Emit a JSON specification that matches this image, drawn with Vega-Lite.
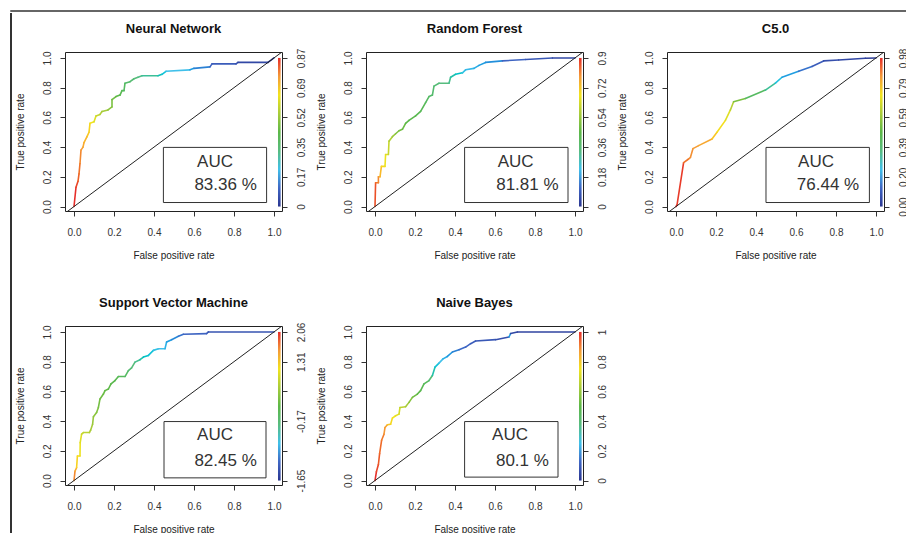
{
  "$schema": "https://vega.github.io/schema/vega-lite/v6.json",
  "background": "white",
  "padding": {"left": 10, "top": 10, "right": 0, "bottom": 0},
  "spacing": 0,
  "config": {
    "view": {"stroke": "#222", "strokeWidth": 1},
    "font": "Liberation Sans",
    "axis": {"grid": false, "domain": false, "tickSize": 5, "tickColor": "#333", "labelFont": "Liberation Sans", "titleFont": "Liberation Sans", "labelFontSize": 10, "titleFontSize": 10, "titleFontWeight": "normal", "labelColor": "#333", "titleColor": "#222"},
    "title": {"font": "Liberation Sans", "fontSize": 13, "fontWeight": "bold", "color": "#111", "anchor": "middle", "frame": "group", "offset": 12}
  },
  "datasets": {
    "roc": [
      {"m":"NN","fpr":0,"tpr":0,"t":1},{"m":"NN","fpr":0.01,"tpr":0.13,"t":0.98},{"m":"NN","fpr":0.02,"tpr":0.17,"t":0.95},{"m":"NN","fpr":0.025,"tpr":0.22,"t":0.93},{"m":"NN","fpr":0.03,"tpr":0.29,"t":0.9},{"m":"NN","fpr":0.035,"tpr":0.38,"t":0.87},{"m":"NN","fpr":0.045,"tpr":0.40,"t":0.85},{"m":"NN","fpr":0.05,"tpr":0.43,"t":0.83},{"m":"NN","fpr":0.065,"tpr":0.47,"t":0.8},{"m":"NN","fpr":0.075,"tpr":0.50,"t":0.78},{"m":"NN","fpr":0.08,"tpr":0.56,"t":0.75},{"m":"NN","fpr":0.10,"tpr":0.57,"t":0.72},{"m":"NN","fpr":0.11,"tpr":0.61,"t":0.68},{"m":"NN","fpr":0.13,"tpr":0.62,"t":0.64},{"m":"NN","fpr":0.14,"tpr":0.64,"t":0.62},{"m":"NN","fpr":0.17,"tpr":0.65,"t":0.58},{"m":"NN","fpr":0.19,"tpr":0.67,"t":0.55},{"m":"NN","fpr":0.19,"tpr":0.72,"t":0.53},{"m":"NN","fpr":0.21,"tpr":0.74,"t":0.5},{"m":"NN","fpr":0.23,"tpr":0.75,"t":0.48},{"m":"NN","fpr":0.24,"tpr":0.78,"t":0.46},{"m":"NN","fpr":0.25,"tpr":0.78,"t":0.45},{"m":"NN","fpr":0.255,"tpr":0.83,"t":0.43},{"m":"NN","fpr":0.28,"tpr":0.84,"t":0.41},{"m":"NN","fpr":0.30,"tpr":0.86,"t":0.39},{"m":"NN","fpr":0.32,"tpr":0.87,"t":0.37},{"m":"NN","fpr":0.34,"tpr":0.88,"t":0.35},{"m":"NN","fpr":0.42,"tpr":0.88,"t":0.32},{"m":"NN","fpr":0.44,"tpr":0.89,"t":0.28},{"m":"NN","fpr":0.46,"tpr":0.91,"t":0.25},{"m":"NN","fpr":0.58,"tpr":0.92,"t":0.2},{"m":"NN","fpr":0.60,"tpr":0.93,"t":0.16},{"m":"NN","fpr":0.68,"tpr":0.94,"t":0.12},{"m":"NN","fpr":0.69,"tpr":0.96,"t":0.1},{"m":"NN","fpr":0.81,"tpr":0.96,"t":0.07},{"m":"NN","fpr":0.82,"tpr":0.97,"t":0.05},{"m":"NN","fpr":0.97,"tpr":0.97,"t":0.02},{"m":"NN","fpr":1,"tpr":1,"t":0},
      {"m":"RF","fpr":0,"tpr":0,"t":0.97},{"m":"RF","fpr":0.003,"tpr":0.16,"t":0.93},{"m":"RF","fpr":0.017,"tpr":0.16,"t":0.9},{"m":"RF","fpr":0.017,"tpr":0.2,"t":0.87},{"m":"RF","fpr":0.025,"tpr":0.2,"t":0.82},{"m":"RF","fpr":0.032,"tpr":0.27,"t":0.77},{"m":"RF","fpr":0.05,"tpr":0.27,"t":0.74},{"m":"RF","fpr":0.053,"tpr":0.35,"t":0.72},{"m":"RF","fpr":0.067,"tpr":0.35,"t":0.68},{"m":"RF","fpr":0.07,"tpr":0.44,"t":0.64},{"m":"RF","fpr":0.087,"tpr":0.47,"t":0.6},{"m":"RF","fpr":0.103,"tpr":0.49,"t":0.56},{"m":"RF","fpr":0.12,"tpr":0.51,"t":0.54},{"m":"RF","fpr":0.137,"tpr":0.52,"t":0.52},{"m":"RF","fpr":0.153,"tpr":0.56,"t":0.5},{"m":"RF","fpr":0.17,"tpr":0.58,"t":0.49},{"m":"RF","fpr":0.203,"tpr":0.61,"t":0.48},{"m":"RF","fpr":0.228,"tpr":0.64,"t":0.47},{"m":"RF","fpr":0.253,"tpr":0.70,"t":0.45},{"m":"RF","fpr":0.27,"tpr":0.74,"t":0.43},{"m":"RF","fpr":0.287,"tpr":0.75,"t":0.42},{"m":"RF","fpr":0.295,"tpr":0.81,"t":0.4},{"m":"RF","fpr":0.32,"tpr":0.83,"t":0.38},{"m":"RF","fpr":0.37,"tpr":0.83,"t":0.36},{"m":"RF","fpr":0.378,"tpr":0.87,"t":0.33},{"m":"RF","fpr":0.403,"tpr":0.89,"t":0.3},{"m":"RF","fpr":0.437,"tpr":0.90,"t":0.26},{"m":"RF","fpr":0.453,"tpr":0.92,"t":0.24},{"m":"RF","fpr":0.495,"tpr":0.93,"t":0.22},{"m":"RF","fpr":0.52,"tpr":0.95,"t":0.2},{"m":"RF","fpr":0.553,"tpr":0.97,"t":0.18},{"m":"RF","fpr":0.637,"tpr":0.98,"t":0.12},{"m":"RF","fpr":0.753,"tpr":0.99,"t":0.09},{"m":"RF","fpr":0.887,"tpr":1.0,"t":0.05},{"m":"RF","fpr":1,"tpr":1,"t":0},
      {"m":"C5","fpr":0,"tpr":0,"t":1},{"m":"C5","fpr":0.005,"tpr":0.01,"t":0.99},{"m":"C5","fpr":0.038,"tpr":0.295,"t":0.93},{"m":"C5","fpr":0.063,"tpr":0.32,"t":0.9},{"m":"C5","fpr":0.072,"tpr":0.33,"t":0.89},{"m":"C5","fpr":0.085,"tpr":0.39,"t":0.87},{"m":"C5","fpr":0.113,"tpr":0.41,"t":0.85},{"m":"C5","fpr":0.18,"tpr":0.455,"t":0.8},{"m":"C5","fpr":0.205,"tpr":0.50,"t":0.76},{"m":"C5","fpr":0.247,"tpr":0.58,"t":0.72},{"m":"C5","fpr":0.272,"tpr":0.65,"t":0.65},{"m":"C5","fpr":0.288,"tpr":0.705,"t":0.55},{"m":"C5","fpr":0.347,"tpr":0.727,"t":0.45},{"m":"C5","fpr":0.447,"tpr":0.784,"t":0.35},{"m":"C5","fpr":0.497,"tpr":0.83,"t":0.27},{"m":"C5","fpr":0.53,"tpr":0.87,"t":0.2},{"m":"C5","fpr":0.613,"tpr":0.91,"t":0.14},{"m":"C5","fpr":0.68,"tpr":0.943,"t":0.1},{"m":"C5","fpr":0.738,"tpr":0.98,"t":0.07},{"m":"C5","fpr":0.813,"tpr":0.986,"t":0.05},{"m":"C5","fpr":0.947,"tpr":0.998,"t":0.02},{"m":"C5","fpr":1,"tpr":1,"t":0},
      {"m":"SVM","fpr":0,"tpr":0,"t":0.9},{"m":"SVM","fpr":0.005,"tpr":0.063,"t":0.85},{"m":"SVM","fpr":0.013,"tpr":0.086,"t":0.78},{"m":"SVM","fpr":0.017,"tpr":0.165,"t":0.76},{"m":"SVM","fpr":0.03,"tpr":0.165,"t":0.74},{"m":"SVM","fpr":0.031,"tpr":0.255,"t":0.72},{"m":"SVM","fpr":0.038,"tpr":0.312,"t":0.68},{"m":"SVM","fpr":0.047,"tpr":0.323,"t":0.66},{"m":"SVM","fpr":0.077,"tpr":0.323,"t":0.64},{"m":"SVM","fpr":0.083,"tpr":0.339,"t":0.62},{"m":"SVM","fpr":0.093,"tpr":0.379,"t":0.6},{"m":"SVM","fpr":0.097,"tpr":0.429,"t":0.58},{"m":"SVM","fpr":0.113,"tpr":0.458,"t":0.56},{"m":"SVM","fpr":0.122,"tpr":0.492,"t":0.54},{"m":"SVM","fpr":0.13,"tpr":0.549,"t":0.53},{"m":"SVM","fpr":0.147,"tpr":0.582,"t":0.52},{"m":"SVM","fpr":0.155,"tpr":0.605,"t":0.51},{"m":"SVM","fpr":0.172,"tpr":0.616,"t":0.5},{"m":"SVM","fpr":0.185,"tpr":0.65,"t":0.49},{"m":"SVM","fpr":0.205,"tpr":0.673,"t":0.48},{"m":"SVM","fpr":0.222,"tpr":0.70,"t":0.46},{"m":"SVM","fpr":0.255,"tpr":0.70,"t":0.44},{"m":"SVM","fpr":0.272,"tpr":0.74,"t":0.41},{"m":"SVM","fpr":0.288,"tpr":0.758,"t":0.39},{"m":"SVM","fpr":0.305,"tpr":0.797,"t":0.36},{"m":"SVM","fpr":0.33,"tpr":0.813,"t":0.33},{"m":"SVM","fpr":0.347,"tpr":0.831,"t":0.3},{"m":"SVM","fpr":0.372,"tpr":0.842,"t":0.28},{"m":"SVM","fpr":0.397,"tpr":0.876,"t":0.26},{"m":"SVM","fpr":0.422,"tpr":0.887,"t":0.25},{"m":"SVM","fpr":0.455,"tpr":0.887,"t":0.23},{"m":"SVM","fpr":0.463,"tpr":0.932,"t":0.2},{"m":"SVM","fpr":0.488,"tpr":0.948,"t":0.17},{"m":"SVM","fpr":0.522,"tpr":0.971,"t":0.14},{"m":"SVM","fpr":0.547,"tpr":0.984,"t":0.12},{"m":"SVM","fpr":0.663,"tpr":0.989,"t":0.1},{"m":"SVM","fpr":0.672,"tpr":1.0,"t":0.08},{"m":"SVM","fpr":1,"tpr":1,"t":0.05},
      {"m":"NB","fpr":0,"tpr":0,"t":1},{"m":"NB","fpr":0.007,"tpr":0.059,"t":0.98},{"m":"NB","fpr":0.017,"tpr":0.108,"t":0.96},{"m":"NB","fpr":0.023,"tpr":0.181,"t":0.94},{"m":"NB","fpr":0.033,"tpr":0.271,"t":0.92},{"m":"NB","fpr":0.045,"tpr":0.312,"t":0.88},{"m":"NB","fpr":0.05,"tpr":0.357,"t":0.86},{"m":"NB","fpr":0.062,"tpr":0.375,"t":0.8},{"m":"NB","fpr":0.078,"tpr":0.379,"t":0.77},{"m":"NB","fpr":0.087,"tpr":0.42,"t":0.75},{"m":"NB","fpr":0.103,"tpr":0.436,"t":0.73},{"m":"NB","fpr":0.12,"tpr":0.447,"t":0.7},{"m":"NB","fpr":0.125,"tpr":0.492,"t":0.66},{"m":"NB","fpr":0.153,"tpr":0.497,"t":0.62},{"m":"NB","fpr":0.17,"tpr":0.526,"t":0.57},{"m":"NB","fpr":0.187,"tpr":0.56,"t":0.53},{"m":"NB","fpr":0.212,"tpr":0.582,"t":0.5},{"m":"NB","fpr":0.228,"tpr":0.605,"t":0.48},{"m":"NB","fpr":0.245,"tpr":0.65,"t":0.46},{"m":"NB","fpr":0.27,"tpr":0.673,"t":0.4},{"m":"NB","fpr":0.287,"tpr":0.707,"t":0.33},{"m":"NB","fpr":0.3,"tpr":0.763,"t":0.28},{"m":"NB","fpr":0.32,"tpr":0.79,"t":0.25},{"m":"NB","fpr":0.34,"tpr":0.819,"t":0.22},{"m":"NB","fpr":0.362,"tpr":0.835,"t":0.19},{"m":"NB","fpr":0.387,"tpr":0.865,"t":0.16},{"m":"NB","fpr":0.42,"tpr":0.88,"t":0.13},{"m":"NB","fpr":0.453,"tpr":0.898,"t":0.12},{"m":"NB","fpr":0.478,"tpr":0.921,"t":0.1},{"m":"NB","fpr":0.503,"tpr":0.939,"t":0.09},{"m":"NB","fpr":0.603,"tpr":0.948,"t":0.07},{"m":"NB","fpr":0.67,"tpr":0.966,"t":0.2},{"m":"NB","fpr":0.678,"tpr":0.989,"t":0.05},{"m":"NB","fpr":0.712,"tpr":1.0,"t":0.04},{"m":"NB","fpr":1,"tpr":1,"t":0}
    ],
    "auc": [
      {"m":"NN","label":"83.36 %"},{"m":"RF","label":"81.81 %"},{"m":"C5","label":"76.44 %"},{"m":"SVM","label":"82.45 %"},{"m":"NB","label":"80.1 %"}
    ],
    "none": []
  },
  "vconcat": [
    {"width": 900, "height": 0.01, "view": {"stroke": "#333", "strokeWidth": 1.5}, "data": {"name": "none"}, "mark": "point"},
    {"hconcat": [
      {"width": 0.01, "height": 481, "view": {"stroke": null}, "data": {"values": [{}]},
       "mark": {"type": "rule", "color": "#333", "strokeWidth": 2},
       "encoding": {"x": {"datum": 0, "scale": {"domain": [0, 1]}, "axis": null}, "y": {"datum": 1.081, "scale": {"domain": [0, 1]}, "axis": null}, "y2": {"datum": -0.1}}},
      {"vconcat": [
    {"hconcat": [
      {"width": 217, "height": 159, "title": {"text": "Neural Network", "offset": 12}, "resolve": {"axis": {"x": "independent", "y": "independent"}},
       "layer": [
        {"data": {"name": "roc"}, "transform": [{"filter": "datum.m === 'NN'"}, {"window": [{"op": "lead", "field": "fpr", "as": "fpr2"}, {"op": "lead", "field": "tpr", "as": "tpr2"}], "sort": [{"field": "fpr"}, {"field": "tpr"}]}, {"filter": "datum.fpr2 != null"}],
         "mark": {"type": "rule", "strokeWidth": 1.6, "strokeCap": "round"},
         "encoding": {
          "x": {"field": "fpr", "type": "quantitative", "scale": {"domain": [-0.045, 1.04], "nice": false, "zero": false}, "axis": {"values": [0,0.2,0.4,0.6,0.8,1], "format": ".1f", "title": "False positive rate", "labelPadding": 11, "titlePadding": 13}},
          "y": {"field": "tpr", "type": "quantitative", "scale": {"domain": [-0.03, 1.04], "nice": false, "zero": false}, "axis": {"orient": "left", "values": [0,0.2,0.4,0.6,0.8,1], "format": ".1f", "title": "True positive rate", "labelAngle": -90, "labelAlign": "center", "labelBaseline": "bottom", "labelPadding": 8, "titlePadding": 17}},
          "x2": {"field": "fpr2"}, "y2": {"field": "tpr2"},
          "color": {"field": "t", "type": "quantitative", "legend": null, "scale": {"domain": [0,0.125,0.25,0.375,0.5,0.625,0.75,0.875,1], "range": ["#2a3590","#3f66c4","#40c0ea","#58bc80","#5cb848","#a8cc3a","#f2e41e","#f49a38","#e62e2a"]}}
         }},
        {"data": {"values": [{}]},
         "mark": {"type": "rect", "color": {"gradient": "linear", "x1": 0, "y1": 1, "x2": 0, "y2": 0, "stops": [{"offset": 0, "color": "#2a3590"}, {"offset": 0.125, "color": "#3f66c4"}, {"offset": 0.25, "color": "#40c0ea"}, {"offset": 0.375, "color": "#58bc80"}, {"offset": 0.5, "color": "#5cb848"}, {"offset": 0.625, "color": "#a8cc3a"}, {"offset": 0.75, "color": "#f2e41e"}, {"offset": 0.875, "color": "#f49a38"}, {"offset": 1, "color": "#e62e2a"}]}},
         "encoding": {"x": {"datum": 1.02, "axis": null}, "x2": {"datum": 1.033}, "y": {"datum": 0, "axis": {"orient": "right", "values": [0,0.2,0.4,0.6,0.8,1], "title": null, "labelAngle": -90, "labelAlign": "center", "labelBaseline": "top", "labelPadding": 9, "labelExpr": "datum.value < 0.1 ? '0' : datum.value < 0.3 ? '0.17' : datum.value < 0.5 ? '0.35' : datum.value < 0.7 ? '0.52' : datum.value < 0.9 ? '0.69' : '0.87'"}}, "y2": {"datum": 1}}},
        {"data": {"values": [{}]}, "mark": {"type": "rule", "color": "#222", "strokeWidth": 1, "clip": true},
         "encoding": {"x": {"datum": -0.05, "axis": null}, "y": {"datum": -0.05, "axis": null}, "x2": {"datum": 1.06}, "y2": {"datum": 1.06}}},
        {"data": {"values": [{}]}, "mark": {"type": "rect", "filled": false, "stroke": "#333", "strokeWidth": 1},
         "encoding": {"x": {"datum": 0.447, "axis": null}, "x2": {"datum": 0.963}, "y": {"datum": 0.027, "axis": null}, "y2": {"datum": 0.398}}},
        {"data": {"name": "auc"}, "transform": [{"filter": "datum.m === 'NN'"}], "mark": {"type": "text", "text": "AUC", "fontSize": 17, "color": "#333", "font": "Liberation Sans"},
         "encoding": {"x": {"datum": 0.705, "axis": null}, "y": {"datum": 0.303, "axis": null}}},
        {"data": {"name": "auc"}, "transform": [{"filter": "datum.m === 'NN'"}], "mark": {"type": "text", "fontSize": 17, "color": "#333", "font": "Liberation Sans"},
         "encoding": {"x": {"datum": 0.758, "axis": null}, "y": {"datum": 0.146, "axis": null}, "text": {"field": "label"}}}
       ]},
      {"width": 217, "height": 159, "title": {"text": "Random Forest", "offset": 15}, "resolve": {"axis": {"x": "independent", "y": "independent"}},
       "layer": [
        {"data": {"name": "roc"}, "transform": [{"filter": "datum.m === 'RF'"}, {"window": [{"op": "lead", "field": "fpr", "as": "fpr2"}, {"op": "lead", "field": "tpr", "as": "tpr2"}], "sort": [{"field": "fpr"}, {"field": "tpr"}]}, {"filter": "datum.fpr2 != null"}],
         "mark": {"type": "rule", "strokeWidth": 1.6, "strokeCap": "round"},
         "encoding": {
          "x": {"field": "fpr", "type": "quantitative", "scale": {"domain": [-0.045, 1.04], "nice": false, "zero": false}, "axis": {"values": [0,0.2,0.4,0.6,0.8,1], "format": ".1f", "title": "False positive rate", "labelPadding": 11, "titlePadding": 13}},
          "y": {"field": "tpr", "type": "quantitative", "scale": {"domain": [-0.03, 1.04], "nice": false, "zero": false}, "axis": {"orient": "left", "values": [0,0.2,0.4,0.6,0.8,1], "format": ".1f", "title": "True positive rate", "labelAngle": -90, "labelAlign": "center", "labelBaseline": "bottom", "labelPadding": 8, "titlePadding": 17}},
          "x2": {"field": "fpr2"}, "y2": {"field": "tpr2"},
          "color": {"field": "t", "type": "quantitative", "legend": null, "scale": {"domain": [0,0.125,0.25,0.375,0.5,0.625,0.75,0.875,1], "range": ["#2a3590","#3f66c4","#40c0ea","#58bc80","#5cb848","#a8cc3a","#f2e41e","#f49a38","#e62e2a"]}}
         }},
        {"data": {"values": [{}]},
         "mark": {"type": "rect", "color": {"gradient": "linear", "x1": 0, "y1": 1, "x2": 0, "y2": 0, "stops": [{"offset": 0, "color": "#2a3590"}, {"offset": 0.125, "color": "#3f66c4"}, {"offset": 0.25, "color": "#40c0ea"}, {"offset": 0.375, "color": "#58bc80"}, {"offset": 0.5, "color": "#5cb848"}, {"offset": 0.625, "color": "#a8cc3a"}, {"offset": 0.75, "color": "#f2e41e"}, {"offset": 0.875, "color": "#f49a38"}, {"offset": 1, "color": "#e62e2a"}]}},
         "encoding": {"x": {"datum": 1.02, "axis": null}, "x2": {"datum": 1.033}, "y": {"datum": 0, "axis": {"orient": "right", "values": [0,0.2,0.4,0.6,0.8,1], "title": null, "labelAngle": -90, "labelAlign": "center", "labelBaseline": "top", "labelPadding": 9, "labelExpr": "datum.value < 0.1 ? '0' : datum.value < 0.3 ? '0.18' : datum.value < 0.5 ? '0.36' : datum.value < 0.7 ? '0.54' : datum.value < 0.9 ? '0.72' : '0.9'"}}, "y2": {"datum": 1}}},
        {"data": {"values": [{}]}, "mark": {"type": "rule", "color": "#222", "strokeWidth": 1, "clip": true},
         "encoding": {"x": {"datum": -0.05, "axis": null}, "y": {"datum": -0.05, "axis": null}, "x2": {"datum": 1.06}, "y2": {"datum": 1.06}}},
        {"data": {"values": [{}]}, "mark": {"type": "rect", "filled": false, "stroke": "#333", "strokeWidth": 1},
         "encoding": {"x": {"datum": 0.448, "axis": null}, "x2": {"datum": 0.965}, "y": {"datum": 0.027, "axis": null}, "y2": {"datum": 0.398}}},
        {"data": {"name": "auc"}, "transform": [{"filter": "datum.m === 'RF'"}], "mark": {"type": "text", "text": "AUC", "fontSize": 17, "color": "#333", "font": "Liberation Sans"},
         "encoding": {"x": {"datum": 0.703, "axis": null}, "y": {"datum": 0.303, "axis": null}}},
        {"data": {"name": "auc"}, "transform": [{"filter": "datum.m === 'RF'"}], "mark": {"type": "text", "fontSize": 17, "color": "#333", "font": "Liberation Sans"},
         "encoding": {"x": {"datum": 0.762, "axis": null}, "y": {"datum": 0.146, "axis": null}, "text": {"field": "label"}}}
       ]},
      {"width": 217, "height": 159, "title": {"text": "C5.0", "offset": 12}, "resolve": {"axis": {"x": "independent", "y": "independent"}},
       "layer": [
        {"data": {"name": "roc"}, "transform": [{"filter": "datum.m === 'C5'"}, {"window": [{"op": "lead", "field": "fpr", "as": "fpr2"}, {"op": "lead", "field": "tpr", "as": "tpr2"}], "sort": [{"field": "fpr"}, {"field": "tpr"}]}, {"filter": "datum.fpr2 != null"}],
         "mark": {"type": "rule", "strokeWidth": 1.6, "strokeCap": "round"},
         "encoding": {
          "x": {"field": "fpr", "type": "quantitative", "scale": {"domain": [-0.045, 1.04], "nice": false, "zero": false}, "axis": {"values": [0,0.2,0.4,0.6,0.8,1], "format": ".1f", "title": "False positive rate", "labelPadding": 11, "titlePadding": 13}},
          "y": {"field": "tpr", "type": "quantitative", "scale": {"domain": [-0.03, 1.04], "nice": false, "zero": false}, "axis": {"orient": "left", "values": [0,0.2,0.4,0.6,0.8,1], "format": ".1f", "title": "True positive rate", "labelAngle": -90, "labelAlign": "center", "labelBaseline": "bottom", "labelPadding": 8, "titlePadding": 17}},
          "x2": {"field": "fpr2"}, "y2": {"field": "tpr2"},
          "color": {"field": "t", "type": "quantitative", "legend": null, "scale": {"domain": [0,0.125,0.25,0.375,0.5,0.625,0.75,0.875,1], "range": ["#2a3590","#3f66c4","#40c0ea","#58bc80","#5cb848","#a8cc3a","#f2e41e","#f49a38","#e62e2a"]}}
         }},
        {"data": {"values": [{}]},
         "mark": {"type": "rect", "color": {"gradient": "linear", "x1": 0, "y1": 1, "x2": 0, "y2": 0, "stops": [{"offset": 0, "color": "#2a3590"}, {"offset": 0.125, "color": "#3f66c4"}, {"offset": 0.25, "color": "#40c0ea"}, {"offset": 0.375, "color": "#58bc80"}, {"offset": 0.5, "color": "#5cb848"}, {"offset": 0.625, "color": "#a8cc3a"}, {"offset": 0.75, "color": "#f2e41e"}, {"offset": 0.875, "color": "#f49a38"}, {"offset": 1, "color": "#e62e2a"}]}},
         "encoding": {"x": {"datum": 1.02, "axis": null}, "x2": {"datum": 1.033}, "y": {"datum": 0, "axis": {"orient": "right", "values": [0,0.2,0.4,0.6,0.8,1], "title": null, "labelAngle": -90, "labelAlign": "center", "labelBaseline": "top", "labelPadding": 9, "labelExpr": "datum.value < 0.1 ? '0.00' : datum.value < 0.3 ? '0.20' : datum.value < 0.5 ? '0.39' : datum.value < 0.7 ? '0.59' : datum.value < 0.9 ? '0.79' : '0.98'"}}, "y2": {"datum": 1}}},
        {"data": {"values": [{}]}, "mark": {"type": "rule", "color": "#222", "strokeWidth": 1, "clip": true},
         "encoding": {"x": {"datum": -0.05, "axis": null}, "y": {"datum": -0.05, "axis": null}, "x2": {"datum": 1.06}, "y2": {"datum": 1.06}}},
        {"data": {"values": [{}]}, "mark": {"type": "rect", "filled": false, "stroke": "#333", "strokeWidth": 1},
         "encoding": {"x": {"datum": 0.45, "axis": null}, "x2": {"datum": 0.967}, "y": {"datum": 0.027, "axis": null}, "y2": {"datum": 0.398}}},
        {"data": {"name": "auc"}, "transform": [{"filter": "datum.m === 'C5'"}], "mark": {"type": "text", "text": "AUC", "fontSize": 17, "color": "#333", "font": "Liberation Sans"},
         "encoding": {"x": {"datum": 0.70, "axis": null}, "y": {"datum": 0.303, "axis": null}}},
        {"data": {"name": "auc"}, "transform": [{"filter": "datum.m === 'C5'"}], "mark": {"type": "text", "fontSize": 17, "color": "#333", "font": "Liberation Sans"},
         "encoding": {"x": {"datum": 0.76, "axis": null}, "y": {"datum": 0.146, "axis": null}, "text": {"field": "label"}}}
       ]}
    ], "spacing": 8},
    {"hconcat": [
      {"width": 217, "height": 159, "title": {"text": "Support Vector Machine", "offset": 12}, "resolve": {"axis": {"x": "independent", "y": "independent"}},
       "layer": [
        {"data": {"name": "roc"}, "transform": [{"filter": "datum.m === 'SVM'"}, {"window": [{"op": "lead", "field": "fpr", "as": "fpr2"}, {"op": "lead", "field": "tpr", "as": "tpr2"}], "sort": [{"field": "fpr"}, {"field": "tpr"}]}, {"filter": "datum.fpr2 != null"}],
         "mark": {"type": "rule", "strokeWidth": 1.6, "strokeCap": "round"},
         "encoding": {
          "x": {"field": "fpr", "type": "quantitative", "scale": {"domain": [-0.045, 1.04], "nice": false, "zero": false}, "axis": {"values": [0,0.2,0.4,0.6,0.8,1], "format": ".1f", "title": "False positive rate", "labelPadding": 11, "titlePadding": 13}},
          "y": {"field": "tpr", "type": "quantitative", "scale": {"domain": [-0.03, 1.04], "nice": false, "zero": false}, "axis": {"orient": "left", "values": [0,0.2,0.4,0.6,0.8,1], "format": ".1f", "title": "True positive rate", "labelAngle": -90, "labelAlign": "center", "labelBaseline": "bottom", "labelPadding": 8, "titlePadding": 17}},
          "x2": {"field": "fpr2"}, "y2": {"field": "tpr2"},
          "color": {"field": "t", "type": "quantitative", "legend": null, "scale": {"domain": [0,0.125,0.25,0.375,0.5,0.625,0.75,0.875,1], "range": ["#2a3590","#3f66c4","#40c0ea","#58bc80","#5cb848","#a8cc3a","#f2e41e","#f49a38","#e62e2a"]}}
         }},
        {"data": {"values": [{}]},
         "mark": {"type": "rect", "color": {"gradient": "linear", "x1": 0, "y1": 1, "x2": 0, "y2": 0, "stops": [{"offset": 0, "color": "#2a3590"}, {"offset": 0.125, "color": "#3f66c4"}, {"offset": 0.25, "color": "#40c0ea"}, {"offset": 0.375, "color": "#58bc80"}, {"offset": 0.5, "color": "#5cb848"}, {"offset": 0.625, "color": "#a8cc3a"}, {"offset": 0.75, "color": "#f2e41e"}, {"offset": 0.875, "color": "#f49a38"}, {"offset": 1, "color": "#e62e2a"}]}},
         "encoding": {"x": {"datum": 1.02, "axis": null}, "x2": {"datum": 1.033}, "y": {"datum": 0, "axis": {"orient": "right", "values": [0,0.2,0.4,0.6,0.8,1], "title": null, "labelAngle": -90, "labelAlign": "center", "labelBaseline": "top", "labelPadding": 9, "labelExpr": "datum.value < 0.1 ? '-1.65' : datum.value < 0.3 ? '' : datum.value < 0.5 ? '-0.17' : datum.value < 0.7 ? '' : datum.value < 0.9 ? '1.31' : '2.06'"}}, "y2": {"datum": 1}}},
        {"data": {"values": [{}]}, "mark": {"type": "rule", "color": "#222", "strokeWidth": 1, "clip": true},
         "encoding": {"x": {"datum": -0.05, "axis": null}, "y": {"datum": -0.05, "axis": null}, "x2": {"datum": 1.06}, "y2": {"datum": 1.06}}},
        {"data": {"values": [{}]}, "mark": {"type": "rect", "filled": false, "stroke": "#333", "strokeWidth": 1},
         "encoding": {"x": {"datum": 0.45, "axis": null}, "x2": {"datum": 0.96}, "y": {"datum": 0.018, "axis": null}, "y2": {"datum": 0.397}}},
        {"data": {"name": "auc"}, "transform": [{"filter": "datum.m === 'SVM'"}], "mark": {"type": "text", "text": "AUC", "fontSize": 17, "color": "#333", "font": "Liberation Sans"},
         "encoding": {"x": {"datum": 0.705, "axis": null}, "y": {"datum": 0.307, "axis": null}}},
        {"data": {"name": "auc"}, "transform": [{"filter": "datum.m === 'SVM'"}], "mark": {"type": "text", "fontSize": 17, "color": "#333", "font": "Liberation Sans"},
         "encoding": {"x": {"datum": 0.758, "axis": null}, "y": {"datum": 0.131, "axis": null}, "text": {"field": "label"}}}
       ]},
      {"width": 217, "height": 159, "title": {"text": "Naive Bayes", "offset": 15}, "resolve": {"axis": {"x": "independent", "y": "independent"}},
       "layer": [
        {"data": {"name": "roc"}, "transform": [{"filter": "datum.m === 'NB'"}, {"window": [{"op": "lead", "field": "fpr", "as": "fpr2"}, {"op": "lead", "field": "tpr", "as": "tpr2"}], "sort": [{"field": "fpr"}, {"field": "tpr"}]}, {"filter": "datum.fpr2 != null"}],
         "mark": {"type": "rule", "strokeWidth": 1.6, "strokeCap": "round"},
         "encoding": {
          "x": {"field": "fpr", "type": "quantitative", "scale": {"domain": [-0.045, 1.04], "nice": false, "zero": false}, "axis": {"values": [0,0.2,0.4,0.6,0.8,1], "format": ".1f", "title": "False positive rate", "labelPadding": 11, "titlePadding": 13}},
          "y": {"field": "tpr", "type": "quantitative", "scale": {"domain": [-0.03, 1.04], "nice": false, "zero": false}, "axis": {"orient": "left", "values": [0,0.2,0.4,0.6,0.8,1], "format": ".1f", "title": "True positive rate", "labelAngle": -90, "labelAlign": "center", "labelBaseline": "bottom", "labelPadding": 8, "titlePadding": 17}},
          "x2": {"field": "fpr2"}, "y2": {"field": "tpr2"},
          "color": {"field": "t", "type": "quantitative", "legend": null, "scale": {"domain": [0,0.125,0.25,0.375,0.5,0.625,0.75,0.875,1], "range": ["#2a3590","#3f66c4","#40c0ea","#58bc80","#5cb848","#a8cc3a","#f2e41e","#f49a38","#e62e2a"]}}
         }},
        {"data": {"values": [{}]},
         "mark": {"type": "rect", "color": {"gradient": "linear", "x1": 0, "y1": 1, "x2": 0, "y2": 0, "stops": [{"offset": 0, "color": "#2a3590"}, {"offset": 0.125, "color": "#3f66c4"}, {"offset": 0.25, "color": "#40c0ea"}, {"offset": 0.375, "color": "#58bc80"}, {"offset": 0.5, "color": "#5cb848"}, {"offset": 0.625, "color": "#a8cc3a"}, {"offset": 0.75, "color": "#f2e41e"}, {"offset": 0.875, "color": "#f49a38"}, {"offset": 1, "color": "#e62e2a"}]}},
         "encoding": {"x": {"datum": 1.02, "axis": null}, "x2": {"datum": 1.033}, "y": {"datum": 0, "axis": {"orient": "right", "values": [0,0.2,0.4,0.6,0.8,1], "title": null, "labelAngle": -90, "labelAlign": "center", "labelBaseline": "top", "labelPadding": 9, "labelExpr": "datum.value < 0.1 ? '0' : datum.value < 0.3 ? '0.2' : datum.value < 0.5 ? '0.4' : datum.value < 0.7 ? '0.6' : datum.value < 0.9 ? '0.8' : '1'"}}, "y2": {"datum": 1}}},
        {"data": {"values": [{}]}, "mark": {"type": "rule", "color": "#222", "strokeWidth": 1, "clip": true},
         "encoding": {"x": {"datum": -0.05, "axis": null}, "y": {"datum": -0.05, "axis": null}, "x2": {"datum": 1.06}, "y2": {"datum": 1.06}}},
        {"data": {"values": [{}]}, "mark": {"type": "rect", "filled": false, "stroke": "#333", "strokeWidth": 1},
         "encoding": {"x": {"datum": 0.448, "axis": null}, "x2": {"datum": 0.915}, "y": {"datum": 0.023, "axis": null}, "y2": {"datum": 0.397}}},
        {"data": {"name": "auc"}, "transform": [{"filter": "datum.m === 'NB'"}], "mark": {"type": "text", "text": "AUC", "fontSize": 17, "color": "#333", "font": "Liberation Sans"},
         "encoding": {"x": {"datum": 0.675, "axis": null}, "y": {"datum": 0.307, "axis": null}}},
        {"data": {"name": "auc"}, "transform": [{"filter": "datum.m === 'NB'"}], "mark": {"type": "text", "fontSize": 17, "color": "#333", "font": "Liberation Sans"},
         "encoding": {"x": {"datum": 0.737, "axis": null}, "y": {"datum": 0.131, "axis": null}, "text": {"field": "label"}}}
       ]}
    ], "spacing": 8}
      ], "spacing": 35}
    ], "spacing": 2}
  ]
}
